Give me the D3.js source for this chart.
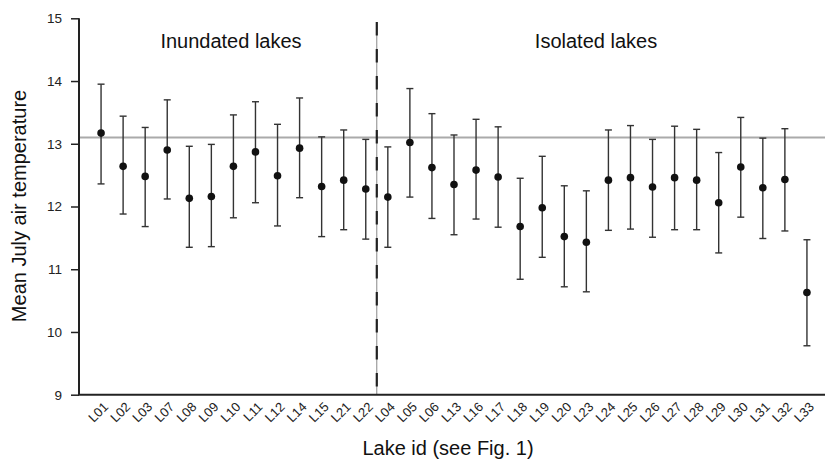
<!DOCTYPE html>
<html>
<head>
<meta charset="utf-8">
<script src="https://cdn.jsdelivr.net/npm/d3@7"></script>
<style>
  body { margin: 0; background: #fff; }
  svg { font-family: "Liberation Sans", Arial, sans-serif; }
</style>
</head>
<body>
<svg id="vis" width="825" height="459"></svg>
<script>
// lake ids in plotting order
var lakes = ["L01","L02","L03","L07","L08","L09","L10","L11","L12","L14","L15","L21","L22",
             "L04","L05","L06","L13","L16","L17","L18","L19","L20","L23","L24","L25","L26",
             "L27","L28","L29","L30","L31","L32","L33"];
// mean july air temperature
var means = [13.17,12.64,12.48,12.90,12.13,12.16,12.64,12.87,12.49,12.93,12.32,12.42,12.28,
             12.15,13.02,12.62,12.35,12.58,12.47,11.68,11.98,11.52,11.43,12.42,12.46,12.31,
             12.46,12.42,12.06,12.63,12.30,12.43,10.63];
var upper = [13.95,13.44,13.26,13.70,12.96,12.99,13.46,13.67,13.31,13.73,13.11,13.22,13.07,
             12.95,13.88,13.48,13.14,13.39,13.27,12.45,12.80,12.33,12.25,13.22,13.29,13.07,
             13.28,13.23,12.86,13.42,13.09,13.24,11.47];
var lower = [12.36,11.88,11.68,12.12,11.35,11.36,11.82,12.06,11.69,12.14,11.52,11.63,11.48,
             11.35,12.15,11.81,11.55,11.80,11.67,10.84,11.19,10.72,10.64,11.62,11.64,11.51,
             11.63,11.63,11.26,11.83,11.49,11.61,9.78];
var yTicks = [9,10,11,12,13,14,15];
var refTemp = 13.1;       // overall mean (grey line)
var splitAfter = "L22";   // last inundated lake
var groupLabels = ["Inundated lakes","Isolated lakes"];

var svg = d3.select("#vis");
var padL = 79, padR = 829, padT = 18.3, padB = 394.7;

var x = d3.scalePoint().domain(lakes).range([padL, padR]).padding(1);
var y = d3.scaleLinear().domain([9,15]).range([padB, padT]);

var data = lakes.map(function(d,i){ return {id:d, m:means[i], hi:upper[i], lo:lower[i]}; });

// reference line
svg.append("line")
	.attr("x1", padL).attr("x2", 825)
	.attr("y1", y(refTemp)).attr("y2", y(refTemp))
	.attr("stroke", "#aaa").attr("stroke-width", 2);

// divider between groups
var splitX = (x(splitAfter) + x(lakes[lakes.indexOf(splitAfter)+1])) / 2;
svg.append("line")
	.attr("x1", splitX).attr("x2", splitX)
	.attr("y1", 22).attr("y2", padB)
	.attr("stroke", "#888").attr("stroke-width", 1);
svg.append("line")
	.attr("x1", splitX).attr("x2", splitX)
	.attr("y1", 22).attr("y2", padB)
	.attr("stroke", "#222").attr("stroke-width", 2.2)
	.attr("stroke-dasharray", "13.5,13.5");

// error bars
var bars = svg.append("g").attr("stroke", "#333").attr("stroke-width", 1.4);
bars.selectAll(".vbar").data(data).enter().append("line")
	.attr("x1", function(d){ return x(d.id); })
	.attr("x2", function(d){ return x(d.id); })
	.attr("y1", function(d){ return y(d.hi); })
	.attr("y2", function(d){ return y(d.lo); });
bars.selectAll(".capHi").data(data).enter().append("line")
	.attr("x1", function(d){ return x(d.id)-3.5; })
	.attr("x2", function(d){ return x(d.id)+3.5; })
	.attr("y1", function(d){ return y(d.hi); })
	.attr("y2", function(d){ return y(d.hi); });
bars.selectAll(".capLo").data(data).enter().append("line")
	.attr("x1", function(d){ return x(d.id)-3.5; })
	.attr("x2", function(d){ return x(d.id)+3.5; })
	.attr("y1", function(d){ return y(d.lo); })
	.attr("y2", function(d){ return y(d.lo); });

// means
svg.selectAll(".pt").data(data).enter().append("circle")
	.attr("cx", function(d){ return x(d.id); })
	.attr("cy", function(d){ return y(d.m); })
	.attr("r", 3.8)
	.attr("fill", "#111");

// y axis
var yAxis = svg.append("g")
	.attr("transform", "translate(" + padL + ",0)")
	.call(d3.axisLeft(y).tickValues(yTicks).tickSize(8).tickPadding(9).tickFormat(d3.format("d")));
yAxis.select(".domain").attr("stroke", "#222").attr("stroke-width", 2).attr("d", "M0," + padT + "V" + padB);
yAxis.selectAll(".tick line").attr("stroke", "#222").attr("stroke-width", 1.5);
yAxis.selectAll("text").attr("font-size", 13.5).attr("fill", "#222").style("font-family", "Liberation Sans, Arial, sans-serif");

// x axis line
svg.append("line")
	.attr("x1", padL - 1).attr("x2", 825)
	.attr("y1", padB).attr("y2", padB)
	.attr("stroke", "#222").attr("stroke-width", 2);

// x tick labels
svg.selectAll(".xl").data(lakes).enter().append("text")
	.attr("transform", function(d){ return "translate(" + (x(d)+8) + "," + (padB+13) + ") rotate(-45)"; })
	.attr("text-anchor", "end")
	.attr("font-size", 13)
	.attr("fill", "#222")
	.text(function(d){ return d; });

// group labels
svg.append("text").attr("x", 231).attr("y", 48).attr("text-anchor", "middle")
	.attr("font-size", 20).attr("fill", "#111").text(groupLabels[0]);
svg.append("text").attr("x", 596).attr("y", 48).attr("text-anchor", "middle")
	.attr("font-size", 20).attr("fill", "#111").text(groupLabels[1]);

// axis titles
svg.append("text").attr("x", 448).attr("y", 455).attr("text-anchor", "middle")
	.attr("font-size", 20).attr("fill", "#111").text("Lake id (see Fig. 1)");
svg.append("text").attr("transform", "translate(26,206) rotate(-90)").attr("text-anchor", "middle")
	.attr("font-size", 20).attr("fill", "#111").text("Mean July air temperature");
</script>
</body>
</html>
